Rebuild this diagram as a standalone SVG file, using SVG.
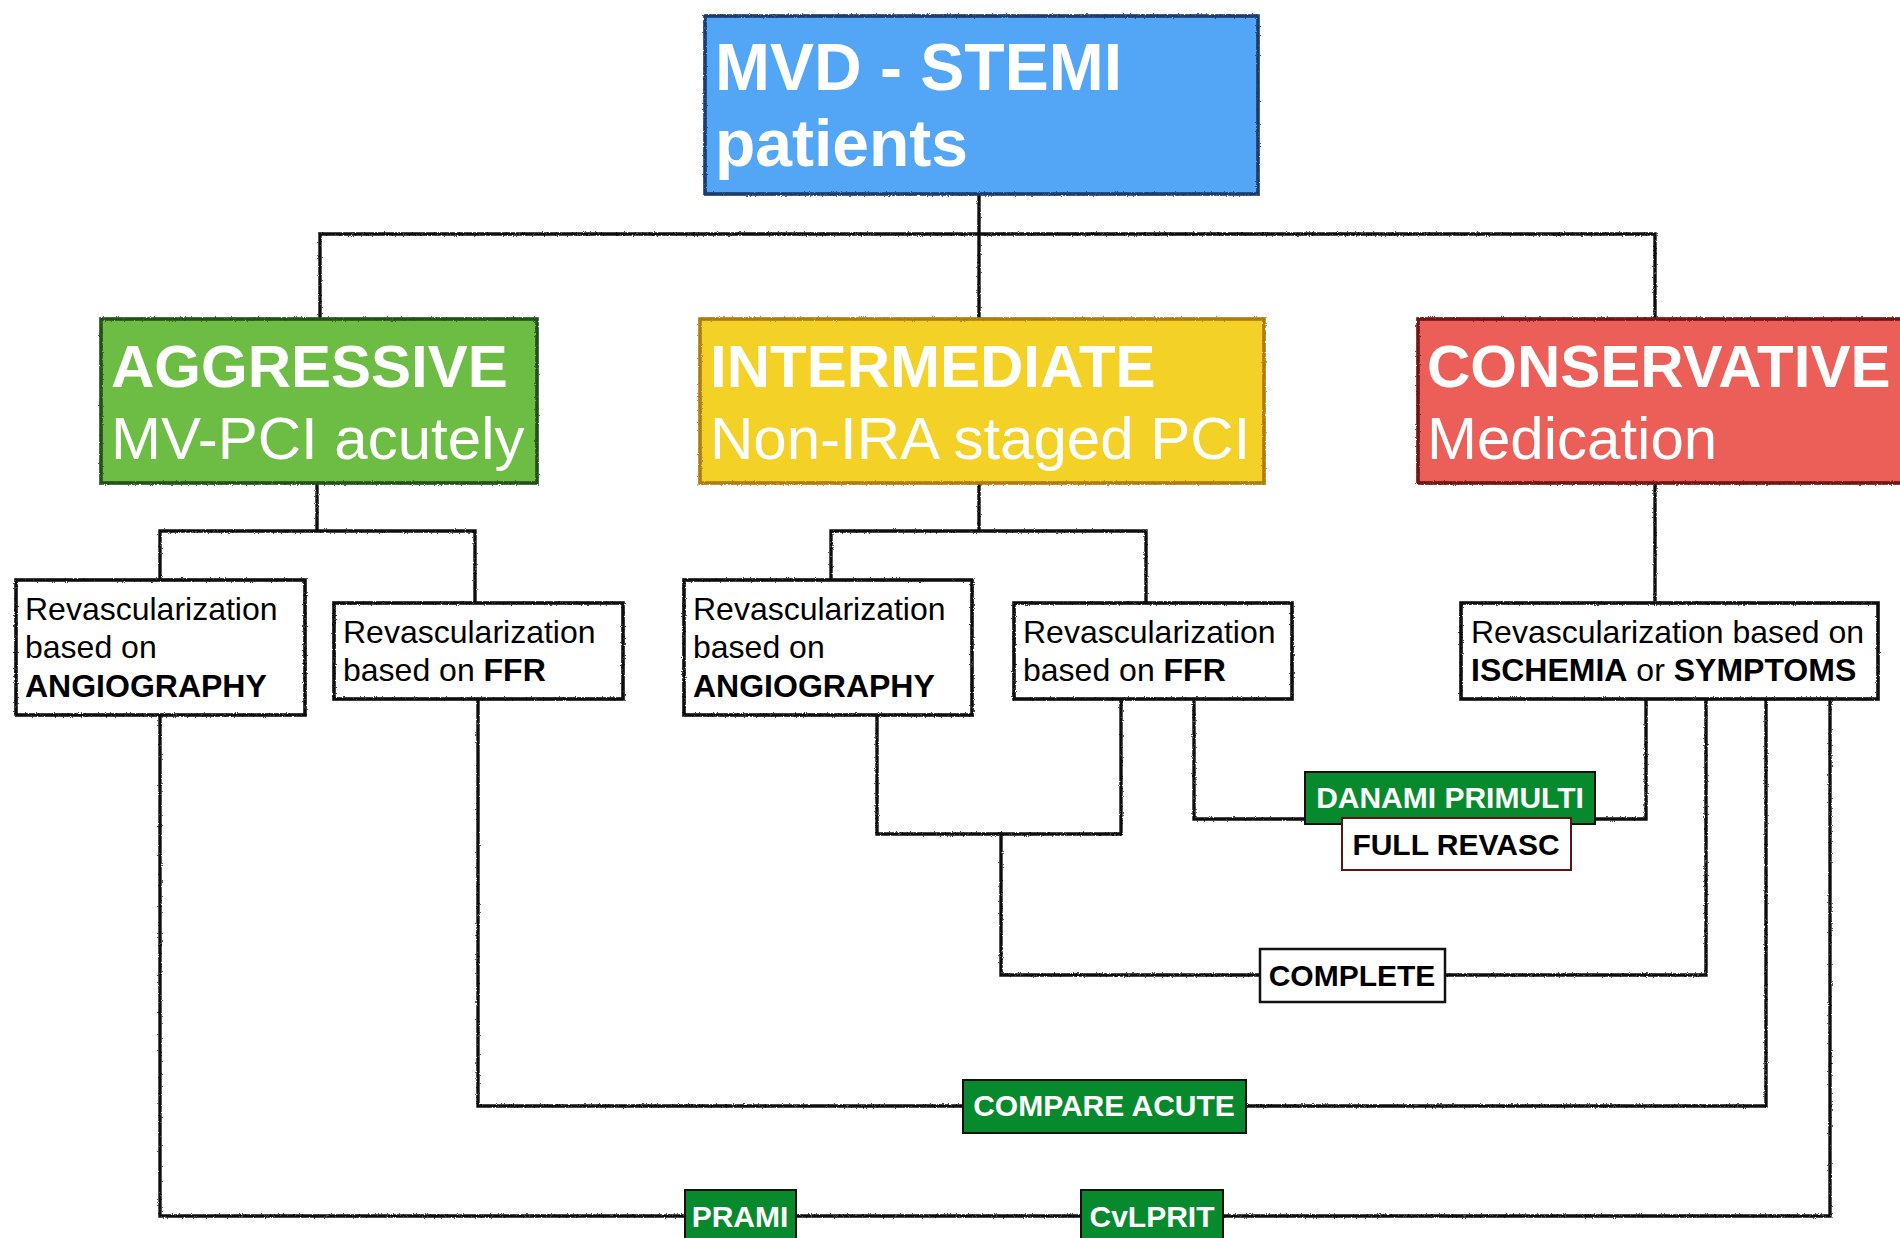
<svg xmlns="http://www.w3.org/2000/svg" width="1900" height="1238" viewBox="0 0 1900 1238">
  <defs>
    <!-- slight hand-drawn wobble for box outlines and connector lines -->
    <filter id="rough" x="-2%" y="-2%" width="104%" height="104%" filterUnits="objectBoundingBox">
      <feTurbulence type="fractalNoise" baseFrequency="0.9" numOctaves="2" seed="3" result="noise"/>
      <feDisplacementMap in="SourceGraphic" in2="noise" scale="2.5" xChannelSelector="R" yChannelSelector="G"/>
    </filter>
    <style>
      text { font-family: "Liberation Sans", Arial, sans-serif; }
      .wire { fill: none; stroke: #111; stroke-width: 3.4; stroke-linecap: square; }
      .frame { stroke-width: 3.6; }
      .head { fill: #fff; font-weight: bold; font-size: 66px; }
      .cat { fill: #fff; font-weight: bold; font-size: 60px; }
      .sub { fill: #fff; font-size: 60px; }
      .leaf { fill: #fff; stroke: #111; }
      .leaftxt { fill: #000; font-size: 32px; }
      .b { font-weight: bold; }
      .trial { fill: #078A2D; stroke: #111; stroke-width: 2; }
      .trialtxt { fill: #fff; font-weight: bold; font-size: 30px; }
      .tagtxt { fill: #000; font-weight: bold; font-size: 30px; }
    </style>
  </defs>

  <rect width="1900" height="1238" fill="#fff"/>

  <!-- connectors -->
  <g id="connectors" filter="url(#rough)">
    <!-- top fan-out -->
    <path class="wire" d="M979 195 V319 M320 319 V234 H1655 V319"/>
    <!-- aggressive branch -->
    <path class="wire" d="M317 484 V531 M160 579 V531 H475 V602"/>
    <!-- intermediate branch -->
    <path class="wire" d="M979 484 V531 M831 579 V531 H1146 V602"/>
    <!-- conservative branch -->
    <path class="wire" d="M1655 484 V602"/>
    <!-- angiography + FFR staged joined, to COMPLETE -->
    <path class="wire" d="M877 715 V834 H1121 V699"/>
    <path class="wire" d="M1001 834 V975 H1706 V699"/>
    <!-- DANAMI PRIMULTI -->
    <path class="wire" d="M1194 699 V819 H1646 V699"/>
    <!-- COMPARE ACUTE -->
    <path class="wire" d="M478 699 V1106 H1766 V699"/>
    <!-- PRAMI / CvLPRIT -->
    <path class="wire" d="M160 715 V1216 H1830 V699"/>
  </g>

  <!-- root -->
  <g id="mvd-stemi">
    <rect x="705" y="16" width="553" height="178" fill="#52A6F5" stroke="#1B3A6B" class="frame" filter="url(#rough)"/>
    <text class="head" x="715" y="90">MVD - STEMI</text>
    <text class="head" x="715" y="166">patients</text>
  </g>

  <!-- strategies -->
  <g id="aggressive">
    <rect x="101" y="319" width="436" height="164" fill="#6DBD45" stroke="#24501A" class="frame" filter="url(#rough)"/>
    <text class="cat" x="111" y="387">AGGRESSIVE</text>
    <text class="sub" x="111" y="459">MV-PCI acutely</text>
  </g>

  <g id="intermediate">
    <rect x="700" y="319" width="564" height="164" fill="#F4D128" stroke="#B07A10" class="frame" filter="url(#rough)"/>
    <text class="cat" x="710" y="387">INTERMEDIATE</text>
    <text class="sub" x="710" y="459">Non-IRA staged PCI</text>
  </g>

  <g id="conservative">
    <rect x="1418" y="319" width="500" height="164" fill="#EB5E58" stroke="#6E1414" class="frame" filter="url(#rough)"/>
    <text class="cat" x="1427" y="387">CONSERVATIVE</text>
    <text class="sub" x="1427" y="459">Medication</text>
  </g>

  <!-- revascularization criteria -->
  <g id="aggr-angio">
    <rect class="leaf frame" x="16" y="580" width="289" height="135" filter="url(#rough)"/>
    <text class="leaftxt" x="25" y="620">Revascularization</text>
    <text class="leaftxt" x="25" y="658">based on</text>
    <text class="leaftxt b" x="25" y="697">ANGIOGRAPHY</text>
  </g>

  <g id="aggr-ffr">
    <rect class="leaf frame" x="334" y="603" width="289" height="96" filter="url(#rough)"/>
    <text class="leaftxt" x="343" y="643">Revascularization</text>
    <text class="leaftxt" x="343" y="681">based on <tspan class="b">FFR</tspan></text>
  </g>

  <g id="inter-angio">
    <rect class="leaf frame" x="684" y="580" width="288" height="135" filter="url(#rough)"/>
    <text class="leaftxt" x="693" y="620">Revascularization</text>
    <text class="leaftxt" x="693" y="658">based on</text>
    <text class="leaftxt b" x="693" y="697">ANGIOGRAPHY</text>
  </g>

  <g id="inter-ffr">
    <rect class="leaf frame" x="1014" y="603" width="278" height="96" filter="url(#rough)"/>
    <text class="leaftxt" x="1023" y="643">Revascularization</text>
    <text class="leaftxt" x="1023" y="681">based on <tspan class="b">FFR</tspan></text>
  </g>

  <g id="cons-ischemia">
    <rect class="leaf frame" x="1461" y="603" width="417" height="96" filter="url(#rough)"/>
    <text class="leaftxt" x="1471" y="643">Revascularization based on</text>
    <text class="leaftxt" x="1471" y="681"><tspan class="b">ISCHEMIA</tspan> or <tspan class="b">SYMPTOMS</tspan></text>
  </g>

  <!-- trials -->
  <g id="danami-primulti">
    <rect class="trial" x="1305" y="772" width="290" height="52" stroke="#1F3864"/>
    <text class="trialtxt" x="1450" y="808" text-anchor="middle">DANAMI PRIMULTI</text>
  </g>

  <g id="full-revasc">
    <rect x="1342" y="818" width="229" height="52" fill="#fff" stroke="#5A1515" stroke-width="2"/>
    <text class="tagtxt" x="1456" y="855" text-anchor="middle">FULL REVASC</text>
  </g>

  <g id="complete">
    <rect x="1260" y="949" width="185" height="53" fill="#fff" stroke="#111" stroke-width="2.5"/>
    <text class="tagtxt" x="1352" y="986" text-anchor="middle">COMPLETE</text>
  </g>

  <g id="compare-acute">
    <rect class="trial" x="963" y="1080" width="283" height="53"/>
    <text class="trialtxt" x="1104" y="1116" text-anchor="middle">COMPARE ACUTE</text>
  </g>

  <g id="prami">
    <rect class="trial" x="685" y="1190" width="111" height="60"/>
    <text class="trialtxt" x="740" y="1227" text-anchor="middle">PRAMI</text>
  </g>

  <g id="cvlprit">
    <rect class="trial" x="1081" y="1190" width="142" height="60"/>
    <text class="trialtxt" x="1152" y="1227" text-anchor="middle">CvLPRIT</text>
  </g>
</svg>
